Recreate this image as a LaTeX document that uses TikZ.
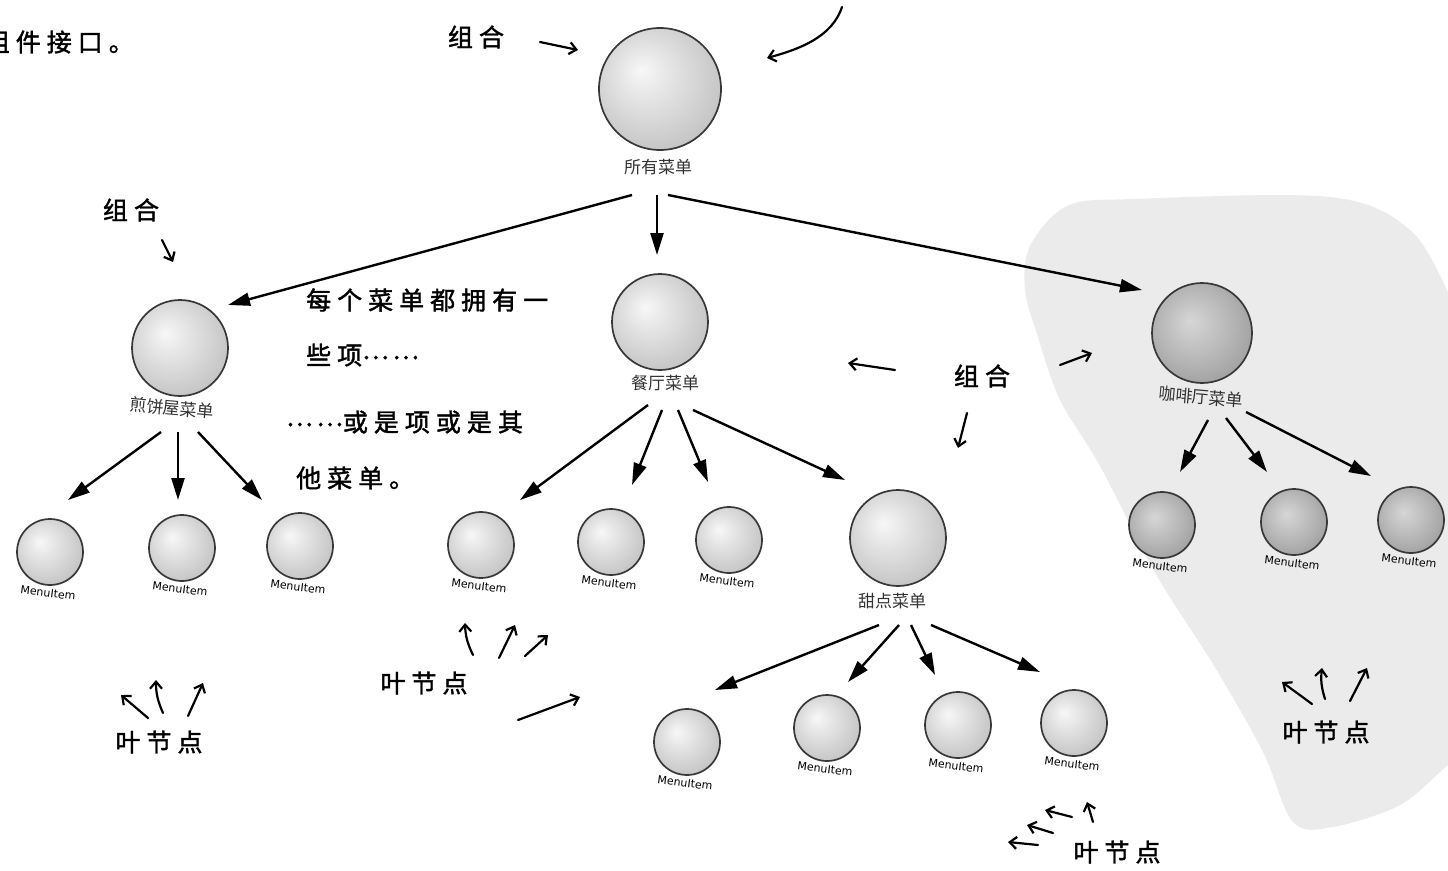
\documentclass[tikz,border=0pt]{standalone}
\usepackage{fontspec}
\usetikzlibrary{arrows.meta,calc}
\newfontfamily\cjk{Noto Sans CJK SC}
\newfontfamily\hand[LetterSpace=24,FakeBold=1.6]{Noto Sans CJK SC}
\newfontfamily\mifont{DejaVu Sans}
\newcommand{\hwdots}{\raisebox{0.22em}{…\hspace{0.15em}…}}
\pgfdeclareradialshading{ballA}{\pgfpoint{-8bp}{8bp}}{color(0bp)=(black!3); color(10bp)=(black!10); color(28bp)=(black!22); color(40bp)=(black!36); color(50bp)=(black!62)}
\pgfdeclareradialshading{ballB}{\pgfpoint{-6bp}{6bp}}{color(0bp)=(black!16); color(20bp)=(black!30); color(40bp)=(black!45); color(50bp)=(black!70)}
\tikzset{
  ball/.style={circle, draw=black!78, line width=1.7pt, shade, shading=ballA, inner sep=0pt},
  darkball/.style={ball, shading=ballB},
  bigball/.style={minimum size=122pt},
  midball/.style={minimum size=96pt},
  smallball/.style={minimum size=66pt},
  hw/.style={font=\hand\fontsize{25}{28}\selectfont, inner sep=0pt},
  lbl/.style={font=\cjk\fontsize{17}{20}\selectfont, text=black!80, inner sep=0pt},
  mi/.style={font=\mifont\fontsize{11}{13}\selectfont, inner sep=0pt, rotate=-7},
  link/.style={line width=2.4pt, -{Triangle[length=22pt,width=13pt]}},
  handarrow/.style={line width=2.2pt, line cap=round, -{Straight Barb[length=7pt,width=12pt]}},
  blob/.style={fill=black!8, draw=none}
}
\begin{document}
\begin{tikzpicture}[x=1pt,y=-1pt]
\useasboundingbox (0,0) rectangle (1448,870);
\clip (0,0) rectangle (1448,870);

% grey background blob
\path[blob] plot[smooth cycle, tension=0.55] coordinates {
  (1025,290) (1030,246) (1067,206) (1133,199) (1330,197) (1410,230) (1452,300)
  (1480,360) (1480,740) (1448,765) (1400,805) (1333,827) (1293,822)
  (1263,752) (1213,664) (1157,576) (1100,466) (1060,400) (1037,334)};

% balls
\node[ball,bigball] (root) at (660,89) {};
\node[ball,midball] (pancake) at (180,348) {};
\node[ball,midball] (rest) at (660,322) {};
\node[darkball,midball,minimum size=100pt] (cafe) at (1202,333) {};
\node[ball,midball] (dessert) at (898,538) {};

\node[ball,smallball] (m1) at (50,552) {};
\node[ball,smallball] (m2) at (182,548) {};
\node[ball,smallball] (m3) at (300,546) {};
\node[ball,smallball] (m4) at (481,545) {};
\node[ball,smallball] (m5) at (611,542) {};
\node[ball,smallball] (m6) at (729,540) {};
\node[darkball,smallball] (c1) at (1162,525) {};
\node[darkball,smallball] (c2) at (1294,522) {};
\node[darkball,smallball] (c3) at (1411,520) {};
\node[ball,smallball] (d1) at (687,742) {};
\node[ball,smallball] (d2) at (827,728) {};
\node[ball,smallball] (d3) at (958,725) {};
\node[ball,smallball] (d4) at (1074,723) {};

% ball labels
\node[lbl] (rootl) at (658,167) {所有菜单};
\node[lbl,rotate=-5] (pancakel) at (172,408) {煎饼屋菜单};
\node[lbl] (restl) at (665,383) {餐厅菜单};
\node[lbl,rotate=-5] (cafel) at (1201,397) {咖啡厅菜单};
\node[lbl] (dessertl) at (892,601) {甜点菜单};

\foreach \m in {m1,m2,m3,m4,m5,m6,c1,c2,c3,d1,d2,d3,d4}
  \node[mi] (\m l) at ($(\m)+(-2,41)$) {MenuItem};

% tree links
\draw[link] ($(rootl)+(-26,28)$) -- ($(pancake)+(48,-43)$);
\draw[link] ($(rootl)+(-1,28)$) -- ($(rest)+(-3,-67)$);
\draw[link] ($(rootl)+(10,28)$) -- ($(cafe)+(-60,-43)$);

\draw[link] ($(pancakel)+(-11,24)$) -- ($(m1)+(18,-52)$);
\draw[link] ($(pancakel)+(6,24)$) -- ($(m2)+(-4,-48)$);
\draw[link] ($(pancakel)+(26,24)$) -- ($(m3)+(-38,-46)$);

\draw[link] ($(restl)+(-17,22)$) -- ($(m4)+(39,-45)$);
\draw[link] ($(restl)+(-3,27)$) -- ($(m5)+(21,-57)$);
\draw[link] ($(restl)+(13,27)$) -- ($(m6)+(-21,-58)$);
\draw[link] ($(restl)+(28,27)$) -- ($(dessert)+(-53,-58)$);

\draw[link] ($(dessertl)+(-13,24)$) -- ($(d1)+(28,-52)$);
\draw[link] ($(dessertl)+(7,24)$) -- ($(d2)+(21,-46)$);
\draw[link] ($(dessertl)+(19,24)$) -- ($(d3)+(-23,-50)$);
\draw[link] ($(dessertl)+(39,24)$) -- ($(d4)+(-34,-51)$);

\draw[link] ($(cafel)+(7,23)$) -- ($(c1)+(18,-53)$);
\draw[link] ($(cafel)+(25,21)$) -- ($(c2)+(-27,-50)$);
\draw[link] ($(cafel)+(45,15)$) -- ($(c3)+(-40,-44)$);

% handwritten annotations
\node[hw,anchor=east] (iface) at (134,42) {组件接口。};

\node[hw] (comboTop) at (476,37) {组合};
\draw[handarrow] ($(comboTop)+(64,5)$) -- ($(comboTop)+(102,13)$);
\draw[handarrow] ($(root)+(182,-82)$) .. controls ($(root)+(172,-52)$) and ($(root)+(140,-40)$) .. ($(root)+(107,-31)$);

\node[hw] (comboLeft) at (131,210) {组合};
\draw[handarrow] ($(comboLeft)+(31,30)$) -- ($(comboLeft)+(42,52)$);

\node[hw] (comboMid) at (982,376) {组合};
\draw[handarrow] ($(comboMid)+(-87,-6)$) -- ($(comboMid)+(-134,-13)$);
\draw[handarrow] ($(comboMid)+(-15,37)$) -- ($(comboMid)+(-24,72)$);
\draw[handarrow] ($(comboMid)+(78,-11)$) -- ($(comboMid)+(110,-23)$);

\node[hw,anchor=west] (note1) at (306,300) {每个菜单都拥有一};
\node[hw,anchor=west] (note2) at (306,355) {些项\hwdots};
\node[hw,anchor=west] (note3) at (286,422) {\hwdots 或是项或是其};
\node[hw,anchor=west] (note4) at (296,478) {他菜单。};

\node[hw] (leafA) at (159,742) {叶节点};
\draw[handarrow] ($(leafA)+(-11,-24)$) -- ($(leafA)+(-38,-47)$);
\draw[handarrow] ($(leafA)+(4,-29)$) to[bend left=12] ($(leafA)+(-3,-62)$);
\draw[handarrow] ($(leafA)+(29,-26)$) -- ($(leafA)+(44,-59)$);

\node[hw] (leafB) at (424,683) {叶节点};
\draw[handarrow] ($(leafB)+(49,-28)$) to[bend left=12] ($(leafB)+(41,-60)$);
\draw[handarrow] ($(leafB)+(75,-25)$) -- ($(leafB)+(91,-58)$);
\draw[handarrow] ($(leafB)+(101,-27)$) -- ($(leafB)+(124,-48)$);
\draw[handarrow] ($(leafB)+(94,37)$) -- ($(leafB)+(156,14)$);

\node[hw] (leafC) at (1326,732) {叶节点};
\draw[handarrow] ($(leafC)+(-14,-28)$) -- ($(leafC)+(-44,-50)$);
\draw[handarrow] ($(leafC)+(-1,-33)$) to[bend left=12] ($(leafC)+(-4,-64)$);
\draw[handarrow] ($(leafC)+(24,-31)$) -- ($(leafC)+(41,-64)$);

\node[hw] (leafD) at (1117,852) {叶节点};
\draw[handarrow] ($(leafD)+(-79,-7)$) -- ($(leafD)+(-109,-10)$);
\draw[handarrow] ($(leafD)+(-64,-19)$) -- ($(leafD)+(-90,-27)$);
\draw[handarrow] ($(leafD)+(-45,-35)$) -- ($(leafD)+(-72,-42)$);
\draw[handarrow] ($(leafD)+(-24,-30)$) -- ($(leafD)+(-30,-50)$);
\end{tikzpicture}
\end{document}
